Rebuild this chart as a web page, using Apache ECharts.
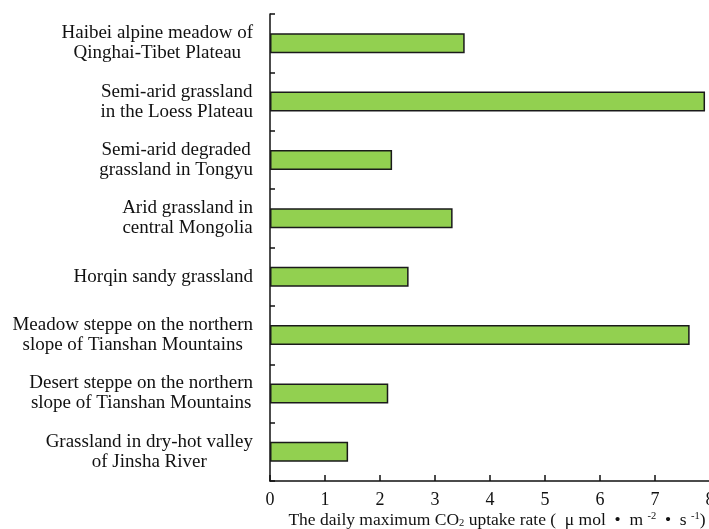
<!DOCTYPE html>
<html>
<head>
<meta charset="utf-8">
<script src="https://cdn.jsdelivr.net/npm/echarts@6/dist/echarts.min.js"></script>
<style>
  html, body { margin: 0; padding: 0; background: #fff; }
  #chart { width: 709px; height: 529px; }
</style>
</head>
<body>
<div id="chart"></div>
<script>
// Ecosystem sites, listed top to bottom
const categories = [
  'Haibei alpine meadow of\nQinghai-Tibet Plateau',
  'Semi-arid grassland\nin the Loess Plateau',
  'Semi-arid degraded\ngrassland in Tongyu',
  'Arid grassland in\ncentral Mongolia',
  'Horqin sandy grassland',
  'Meadow steppe on the northern\nslope of Tianshan Mountains',
  'Desert steppe on the northern\nslope of Tianshan Mountains',
  'Grassland in dry-hot valley\nof Jinsha River'
];

// Daily maximum CO2 uptake rate (μmol·m⁻²·s⁻¹)
const uptakeRate = [3.54, 7.91, 2.22, 3.32, 2.52, 7.63, 2.15, 1.42];

const xTicks = [0, 1, 2, 3, 4, 5, 6, 7, 8];

const serif = '"Liberation Serif", "Times New Roman", serif';

const chart = echarts.init(document.getElementById('chart'), null, { renderer: 'canvas' });

chart.setOption({
  backgroundColor: '#ffffff',
  animation: false,
  grid: { left: 270, top: 14, width: 440, height: 467, containLabel: false, outerBoundsMode: 'none' },
  xAxis: {
    type: 'value',
    min: xTicks[0],
    max: xTicks[xTicks.length - 1],
    interval: 1,
    axisLine: { show: true, lineStyle: { color: '#111', width: 1.5 } },
    axisTick: { show: true, inside: true, length: 6, lineStyle: { color: '#111', width: 1.5 } },
    axisLabel: { color: '#111', fontFamily: serif, fontSize: 18, margin: 10, showMaxLabel: true },
    splitLine: { show: false },
    name: '{t|The daily maximum CO}{sub|2}{t| uptake rate (  μ mol  •  m }{sup|-2}{t|  •  s }{sup|-1}{t|)}',
    nameLocation: 'middle',
    nameMoveOverlap: false,
    nameGap: 30,
    nameTextStyle: {
      color: '#111', fontFamily: serif, fontSize: 17.5,
      padding: [0, 0, 0, 14],
      rich: {
        t: { fontFamily: serif, fontSize: 17.5, lineHeight: 18, color: '#111' },
        sub: { fontFamily: serif, fontSize: 10.5, lineHeight: 18, color: '#111', verticalAlign: 'bottom' },
        sup: { fontFamily: serif, fontSize: 10.5, lineHeight: 18, color: '#111', verticalAlign: 'top' }
      }
    }
  },
  yAxis: {
    type: 'category',
    data: categories,
    inverse: true,
    axisLine: { show: true, lineStyle: { color: '#111', width: 1.5 } },
    axisTick: { show: true, inside: true, length: 5, lineStyle: { color: '#111', width: 1.5 } },
    axisLabel: {
      color: '#111',
      margin: 17,
      align: 'right',
      formatter: function (v) {
        return v.split('\n').map(function (l) { return '{c|' + l + '}'; }).join('\n');
      },
      rich: {
        c: { align: 'center', fontFamily: serif, fontSize: 19, lineHeight: 20, color: '#111' }
      }
    }
  },
  series: [{
    type: 'bar',
    data: uptakeRate,
    barWidth: 20,
    itemStyle: { color: '#92D050', borderColor: '#1a1a1a', borderWidth: 1.5 }
  }]
});
</script>
</body>
</html>
